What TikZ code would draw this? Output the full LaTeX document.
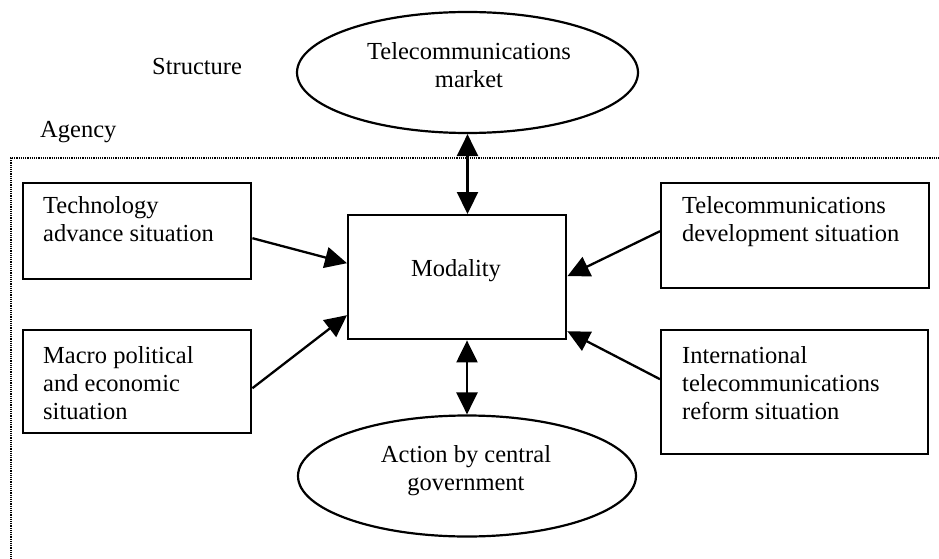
\documentclass[tikz,border=0pt]{standalone}
\usepackage{fontspec}
\setmainfont{Liberation Serif}
\usetikzlibrary{shapes.geometric,arrows.meta,calc}
\begin{document}
\begin{tikzpicture}[x=1pt,y=-1pt,
  box/.style={draw,line width=2.4pt,rectangle,inner sep=0pt,anchor=north west},
  oval/.style={draw,line width=2.2pt,ellipse,inner sep=0pt},
  txt/.style={inner sep=0pt,font=\fontsize{24.5}{28}\selectfont},
  arr/.style={line width=2.3pt,-{Triangle[length=22pt,width=21pt]}},
  dbl/.style={line width=2.3pt,{Triangle[length=22pt,width=21pt]}-{Triangle[length=22pt,width=21pt]}},
  dots/.style={line width=2.2pt,dash pattern=on 1.2pt off 1pt}
]
\useasboundingbox (0,0) rectangle (939,559);
% agency frame
\coordinate (fa) at (11,575);
\coordinate (fb) at (11,158);
\coordinate (fc) at (950,158);
\draw[dots] (fa) -- (fb) -- (fc);
% labels
\node[txt,anchor=base west] (structure) at (152,75) {Structure};
\node[txt,anchor=base west] (agency) at (40,137) {Agency};
% ellipses
\node[oval,minimum width=341pt,minimum height=121pt] (tm) at (467.5,72.5) {};
\node[txt,anchor=base] (tmt) at (469,60) {\begin{tabular}[t]{@{}c@{}}Telecommunications\\market\end{tabular}};
\node[oval,minimum width=338pt,minimum height=121pt] (ac) at (467,476) {};
\node[txt,anchor=base] (act) at (466,462) {\begin{tabular}[t]{@{}c@{}}Action by central\\government\end{tabular}};
% modality
\node[box,minimum width=218pt,minimum height=124pt] (mod) at (347,214) {};
\node[txt,anchor=base] (modt) at (456,276) {Modality};
% left boxes
\node[box,minimum width=228pt,minimum height=96pt] (tech) at (22,182) {};
\node[txt,anchor=base west] (techt) at (43,213) {\begin{tabular}[t]{@{}l@{}}Technology\\advance situation\end{tabular}};
\node[box,minimum width=228pt,minimum height=103pt] (macro) at (22,329) {};
\node[txt,anchor=base west] (macrot) at (43,363) {\begin{tabular}[t]{@{}l@{}}Macro political\\and economic\\situation\end{tabular}};
% right boxes
\node[box,minimum width=268pt,minimum height=105pt] (dev) at (660,182) {};
\node[txt,anchor=base west] (devt) at (682,213) {\begin{tabular}[t]{@{}l@{}}Telecommunications\\development situation\end{tabular}};
\node[box,minimum width=267pt,minimum height=124pt] (intl) at (660,329) {};
\node[txt,anchor=base west] (intlt) at (682,363) {\begin{tabular}[t]{@{}l@{}}International\\telecommunications\\reform situation\end{tabular}};
% connectors
\draw[dbl] (tm.south) -- (tm.south |- mod.north);
\draw[dbl] (ac.north |- mod.south) -- (ac.north);
\draw[arr] ($(tech.east)+(0,7)$) -- ($(mod.west)+(0,-14)$);
\draw[arr] ($(macro.east)+(0,6.5)$) -- ($(mod.west)+(0,38)$);
\draw[arr] ($(dev.west)+(0,-4.5)$) -- ($(mod.east)+(0,-1)$);
\draw[arr] ($(intl.west)+(0,-13)$) -- ($(mod.east)+(0,54)$);
\end{tikzpicture}
\end{document}
